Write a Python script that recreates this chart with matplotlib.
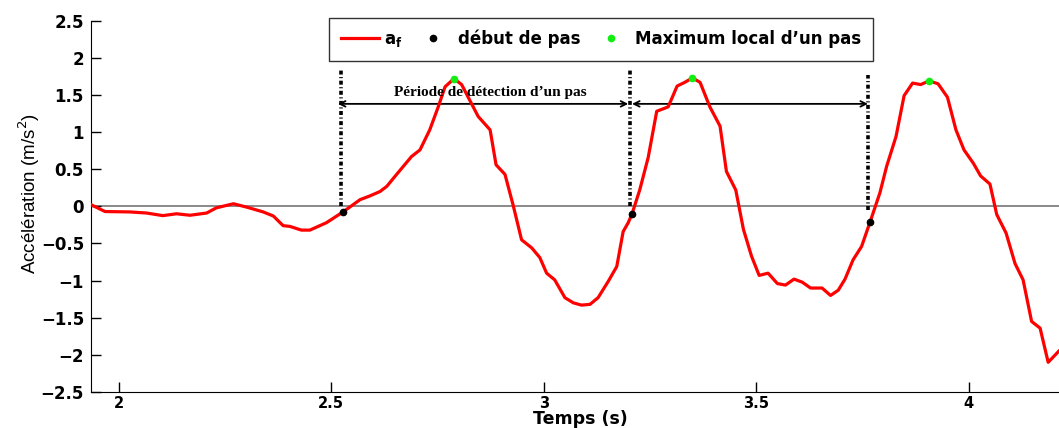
import numpy as np
import matplotlib
matplotlib.use("Agg")
import matplotlib.pyplot as plt
from matplotlib.ticker import FuncFormatter

# signal a_f (temps en s, accélération en m/s^2)
t = [1.936, 1.968, 2.026, 2.066, 2.104, 2.136, 2.168, 2.207, 2.230, 2.270,
     2.301, 2.340, 2.364, 2.387, 2.403, 2.430, 2.450, 2.489, 2.528, 2.568,
     2.591, 2.615, 2.631, 2.654, 2.689, 2.709, 2.732, 2.752, 2.768, 2.789,
     2.807, 2.826, 2.846, 2.874, 2.888, 2.909, 2.928, 2.948, 2.972, 2.991,
     3.007, 3.026, 3.050, 3.070, 3.089, 3.109, 3.128, 3.152, 3.172, 3.187,
     3.199, 3.208, 3.226, 3.246, 3.266, 3.293, 3.314, 3.332, 3.350, 3.368,
     3.391, 3.415, 3.430, 3.452, 3.470, 3.489, 3.507, 3.528, 3.550, 3.569,
     3.589, 3.608, 3.628, 3.655, 3.675, 3.693, 3.709, 3.728, 3.748, 3.768,
     3.791, 3.807, 3.829, 3.848, 3.868, 3.887, 3.907, 3.928, 3.950, 3.970,
     3.989, 4.011, 4.028, 4.050, 4.066, 4.088, 4.109, 4.128, 4.148, 4.168,
     4.187, 4.212]
acc = [0.02, -0.07, -0.075, -0.09, -0.125, -0.10, -0.12, -0.09, -0.02, 0.035,
       -0.01, -0.075, -0.13, -0.26, -0.27, -0.32, -0.32, -0.22, -0.075, 0.09,
       0.14, 0.20, 0.27, 0.43, 0.67, 0.76, 1.03, 1.34, 1.61, 1.72,
       1.64, 1.43, 1.21, 1.03, 0.56, 0.43, 0.02, -0.45, -0.56, -0.69,
       -0.90, -0.99, -1.23, -1.30, -1.33, -1.32, -1.23, -1.01, -0.81, -0.34,
       -0.22, -0.10, 0.22, 0.66, 1.28, 1.34, 1.62, 1.67, 1.73, 1.67,
       1.34, 1.08, 0.47, 0.22, -0.31, -0.67, -0.93, -0.90, -1.04, -1.06,
       -0.98, -1.02, -1.10, -1.10, -1.20, -1.13, -0.98, -0.72, -0.54, -0.21,
       0.18, 0.54, 0.94, 1.49, 1.66, 1.64, 1.69, 1.65, 1.47, 1.03,
       0.76, 0.58, 0.41, 0.30, -0.11, -0.36, -0.77, -0.99, -1.55, -1.64,
       -2.10, -1.95]

# début de pas
debut_t = [2.528, 3.208, 3.768]
debut_a = [-0.075, -0.10, -0.21]

# maximum local
max_t = [2.789, 3.350, 3.907]
max_a = [1.72, 1.73, 1.69]

# lignes verticales
vline_t = [2.524, 3.203, 3.762]
vline_top = [1.84, 1.84, 1.77]
vline_bot = [0.0, 0.0, -0.05]

# flèches de période
arrow_start = [2.516, 3.208]
arrow_end = [3.199, 3.763]
arrow_y = 1.38

fig = plt.figure(figsize=(10.59, 4.28), dpi=100)
ax = fig.add_axes([91/1059, 36/428, 978/1059, 371.3/428])

ax.axhline(0, color="#808080", lw=1.3, zorder=1)
ax.vlines(vline_t, vline_bot, vline_top, colors="k", lw=2.6,
          linestyles=[(0, (1.1, 0.7, 0.3, 0.7))], zorder=2)

for a, b in zip(arrow_start, arrow_end):
    ax.annotate("", xy=(b, arrow_y), xytext=(a, arrow_y),
                arrowprops=dict(arrowstyle="<->", color="k", lw=1.3,
                                shrinkA=0, shrinkB=0, mutation_scale=10))
ax.text(2.874, 1.53, "Période de détection d\u2019un pas", ha="center", va="center",
        fontsize=11, fontweight="bold", family="Liberation Serif", zorder=5)

ax.plot(t, acc, color="red", lw=2.3, label=r"$\mathbf{a}_\mathbf{f}$", zorder=3)
ax.plot(debut_t, debut_a, "o", color="k", ms=4.5, ls="none", label="début de pas", zorder=4)
ax.plot(max_t, max_a, "o", color="#11ee11", ms=4.5, ls="none",
        label="Maximum local d\u2019un pas", zorder=4)

ax.set_xlim(1.935, 4.236)
ax.set_ylim(-2.5, 2.5)
ax.set_xticks([2, 2.5, 3, 3.5, 4])
ax.set_yticks(np.arange(-2.5, 2.51, 0.5))
fmt = FuncFormatter(lambda v, p: ("%g" % v).replace("-", "\u2212"))
ax.xaxis.set_major_formatter(fmt)
ax.yaxis.set_major_formatter(fmt)
ax.tick_params(direction="in", length=7, width=1)
ax.tick_params(axis="y", labelsize=12, pad=5)
ax.tick_params(axis="x", labelsize=10.5, pad=3)
for lab in ax.get_xticklabels() + ax.get_yticklabels():
    lab.set_fontweight("bold")
ax.spines["top"].set_visible(False)
ax.spines["right"].set_visible(False)

ax.set_xlabel("Temps (s)", fontsize=12.5, fontweight="bold", labelpad=-1)
ax.set_ylabel("Accélération (m/s$^2$)", fontsize=13.5, family="Liberation Sans")
ax.yaxis.set_label_coords(-0.05, 0.535)

leg = ax.legend(loc="upper center", bbox_to_anchor=(601/1059, 1 - 18/428),
                bbox_transform=fig.transFigure, ncol=3, frameon=True,
                fancybox=False, edgecolor="k", handlelength=2.3,
                handletextpad=0.3, columnspacing=0.7, borderpad=0.7,
                borderaxespad=0, prop=dict(weight="bold", size=12))
leg.get_frame().set_linewidth(1.0)

fig.savefig("out.png", dpi=100)
